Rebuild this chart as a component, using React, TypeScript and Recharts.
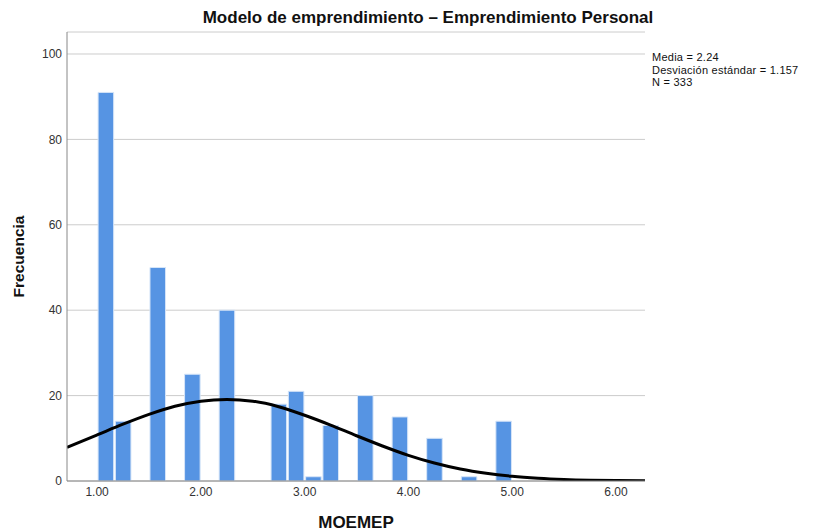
import { Bar, CartesianGrid, ComposedChart, Label, Line, XAxis, YAxis } from 'recharts';

// histogram bins (width 1/6), midpoints and counts
const binMids = [1.0833, 1.25, 1.5833, 1.9167, 2.25, 2.75, 2.9167, 3.0833, 3.25, 3.5833, 3.9167, 4.25, 4.5833, 4.9167];
const binCounts = [91, 14, 50, 25, 40, 18, 21, 1, 13, 20, 15, 10, 1, 14];

// fitted normal curve
const curveX = [0.71, 1.0, 1.25, 1.5, 1.75, 2.0, 2.25, 2.5, 2.75, 3.0, 3.25, 3.5, 3.75, 4.0, 4.25, 4.5, 4.75, 5.0, 5.25, 5.5, 5.75, 6.0, 6.28];
const curveY = [7.9, 10.8, 13.3, 15.6, 17.5, 18.7, 19.1, 18.7, 17.4, 15.4, 13.1, 10.6, 8.2, 6.0, 4.2, 2.8, 1.8, 1.1, 0.65, 0.36, 0.19, 0.1, 0.04];

const xTicks = [1, 2, 3, 4, 5, 6];
const yTicks = [0, 20, 40, 60, 80, 100];
const stats = ['Media = 2.24', 'Desviación estándar = 1.157', 'N = 333'];

const histData = binMids.map((x, i) => ({ x, count: binCounts[i] }));
const curveData = curveX.map((x, i) => ({ x, y: curveY[i] }));

const font = '"Liberation Sans", Arial, sans-serif';
const tickStyle = { fill: '#333', fontSize: 12, fontFamily: font };
const xDomain = [0.71, 6.28];

// only the tick positions get a vertical grid line (no line at the plot's right edge)
function verticalLines({ xAxis }: any) {
  if (xAxis && typeof xAxis.scale === 'function') return xTicks.map((t) => xAxis.scale(t));
  return [];
}

export default function App() {
  return (
    <div style={{ position: 'absolute', left: 0, top: 0, width: 814, height: 531, background: '#fff' }}>
      <div
        style={{
          position: 'absolute', left: 0, width: 856, top: 8, textAlign: 'center',
          fontFamily: font, fontWeight: 700, fontSize: 17, color: '#111', lineHeight: '20px',
        }}
      >
        Modelo de emprendimiento – Emprendimiento Personal
      </div>
      <div
        style={{
          position: 'absolute', left: 652, top: 51, fontFamily: font, fontSize: 11, letterSpacing: 0.25,
          lineHeight: '12.6px', color: '#111', whiteSpace: 'nowrap',
        }}
      >
        {stats.map((s) => <div key={s}>{s}</div>)}
      </div>
      <ComposedChart width={814} height={531} data={histData} margin={{ top: 32, right: 169, bottom: 0, left: 0 }}>
        <CartesianGrid stroke="#cccccc" strokeWidth={1} verticalCoordinatesGenerator={verticalLines} />
        <XAxis
          dataKey="x" type="number" domain={xDomain} allowDataOverflow ticks={xTicks}
          tickFormatter={(v: number) => v.toFixed(2)} tick={tickStyle} tickLine={false} tickSize={3} tickMargin={3}
          axisLine={{ stroke: '#888' }} height={50}
        >
          <Label value="MOEMEP" position="insideBottom" offset={3} style={{ fontFamily: font, fontWeight: 700, fontSize: 17, fill: '#111' }} />
        </XAxis>
        <XAxis xAxisId="curve" dataKey="x" type="number" domain={xDomain} allowDataOverflow hide />
        <YAxis
          type="number" domain={[0, 105.15]} allowDataOverflow ticks={yTicks} tick={tickStyle}
          tickLine={false} tickSize={3} tickMargin={2} axisLine={{ stroke: '#888' }} width={67}
        >
          <Label value="Frecuencia" angle={-90} position="center" dx={-15.5} style={{ fontFamily: font, fontWeight: 700, fontSize: 15.5, fill: '#111' }} />
        </YAxis>
        <Bar dataKey="count" fill="#5694e3" stroke="#d6e5f8" strokeWidth={1} barSize={17.3} isAnimationActive={false} />
        <Line
          xAxisId="curve" data={curveData} dataKey="y" type="monotone" stroke="#000" strokeWidth={3}
          dot={false} activeDot={false} isAnimationActive={false}
        />
      </ComposedChart>
    </div>
  );
}
